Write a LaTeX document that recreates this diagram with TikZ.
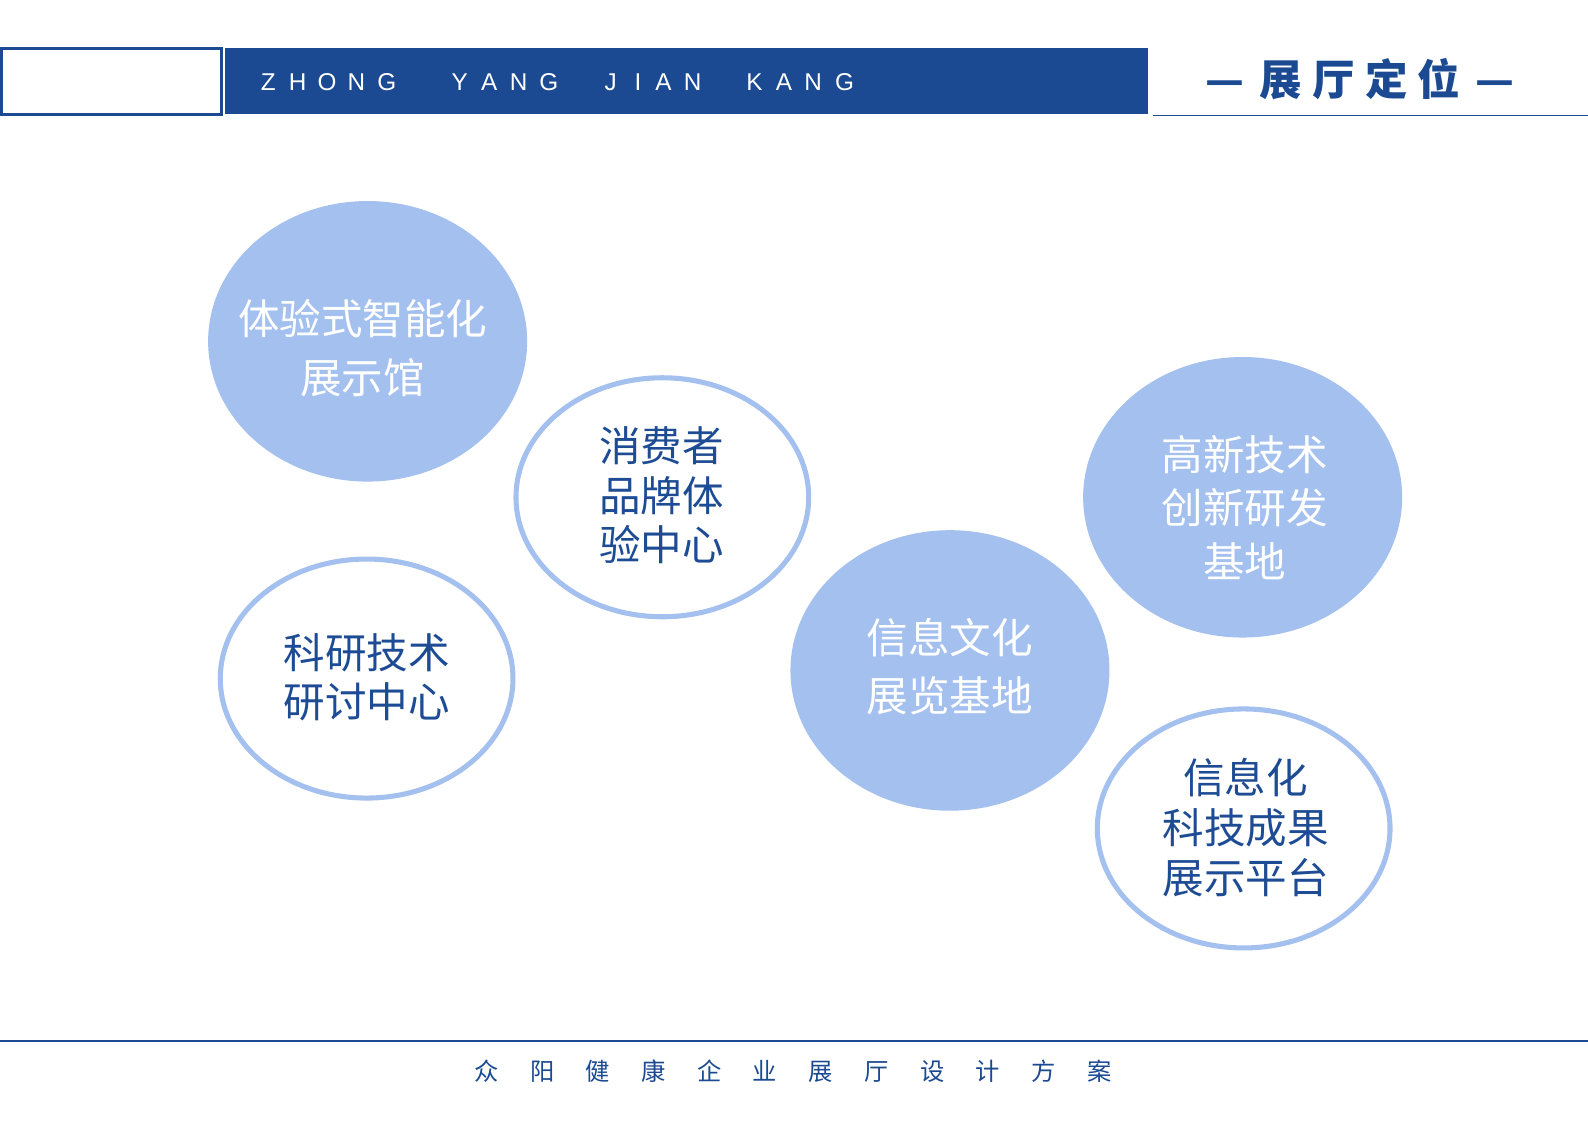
\documentclass[tikz,border=0pt]{standalone}
\usepackage{fontspec}
\usetikzlibrary{shapes.geometric}
\newfontfamily\cjk{Noto Sans CJK SC}
\newfontfamily\latinf{Liberation Sans}
\definecolor{hdrblue}{HTML}{1B4A92}
\definecolor{lightblue}{HTML}{A3C0EE}
\definecolor{txtblue}{HTML}{1D4B94}
\tikzset{
  bubblefill/.style={ellipse, fill=lightblue, inner sep=0pt, minimum width=315pt, minimum height=277pt},
  bubbleline/.style={ellipse, draw=lightblue, line width=5pt, fill=white, inner sep=0pt, minimum width=289pt, minimum height=236pt},
  whitetxt/.style={text=white, align=center, inner sep=0pt},
  bluetxt/.style={text=txtblue, align=center, inner sep=0pt},
  hdrletter/.style={text=white, inner sep=0pt, font=\latinf\fontsize{24}{24}\selectfont},
}
\begin{document}
\begin{tikzpicture}[x=1pt,y=-1pt]
\useasboundingbox (0,0) rectangle (1568,1108.9);
\fill[white] (0,0) rectangle (1568,1108.9);
% header
\draw[hdrblue, line width=3pt] (1.5,47.5) rectangle (218.5,113.5);
\fill[hdrblue] (222,47) rectangle (1134,113);
\draw[hdrblue, line width=1.5pt] (1138,114) -- (1568,114);
\foreach \c/\x in {Z/265,H/294,O/323,N/352,G/382,Y/454,A/483,N/512,G/542,J/603,I/630,A/655,N/684,K/745,A/774,N/803,G/834}
  \node[hdrletter] (h\x) at (\x,81) {\c};
\node[text=hdrblue, inner sep=0pt, font=\cjk\bfseries\fontsize{42}{42}\selectfont] (title) at (1343,78) {—\hspace{15pt}展\hspace{10pt}厅\hspace{10pt}定\hspace{10pt}位\hspace{15pt}—};
% footer
\draw[hdrblue, line width=1.5pt] (0,1028) -- (1568,1028);
\node[text=hdrblue, inner sep=0pt, font=\cjk\fontsize{24}{24}\selectfont] (footer) at (783,1058) {众\hspace{31pt}阳\hspace{31pt}健\hspace{31pt}康\hspace{31pt}企\hspace{31pt}业\hspace{31pt}展\hspace{31pt}厅\hspace{31pt}设\hspace{31pt}计\hspace{31pt}方\hspace{31pt}案};
% bubbles
\node[bubblefill] (e1) at (363,337) {};
\node[bubbleline] (e2) at (654,491) {};
\node[bubbleline] (e3) at (362,670) {};
\node[bubblefill] (e4) at (938,662) {};
\node[bubblefill] (e5) at (1227,491) {};
\node[bubbleline] (e6) at (1228,818) {};
\node[whitetxt, font=\cjk\fontsize{41}{58}\selectfont] (t1) at (358,344) {体验式智能化\\展示馆};
\node[bluetxt, font=\cjk\fontsize{41}{49}\selectfont] (t2) at (653,489) {消费者\\品牌体\\验中心};
\node[bluetxt, font=\cjk\fontsize{41}{48}\selectfont] (t3) at (362,669) {科研技术\\研讨中心};
\node[whitetxt, font=\cjk\fontsize{41}{57}\selectfont] (t4) at (938,658) {信息文化\\展览基地};
\node[whitetxt, font=\cjk\fontsize{41}{53}\selectfont] (t5) at (1229,501) {高新技术\\创新研发\\基地};
\node[bluetxt, font=\cjk\fontsize{41}{49}\selectfont] (t6) at (1230,817) {信息化\\科技成果\\展示平台};
\end{tikzpicture}
\end{document}
